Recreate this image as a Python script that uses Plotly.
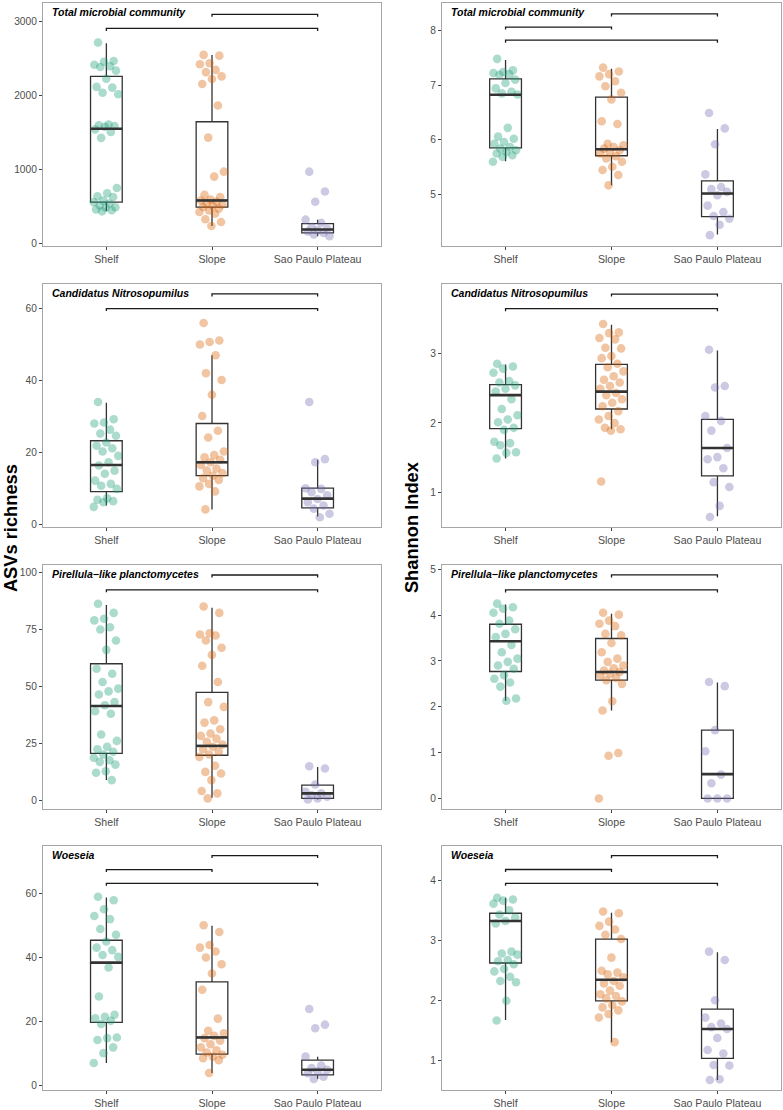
import plotly.graph_objects as go

groups = ["Shelf", "Slope", "Sao Paulo Plateau"]
colors = ["#1B9E77", "#D95F02", "#7570B3"]
titles = ["Total microbial community", "Candidatus Nitrosopumilus",
          "Pirellula\u2212like planctomycetes", "Woeseia"]
ytitle_left = "ASVs richness"
ytitle_right = "Shannon Index"

# ---------------- Total microbial community ----------------
asv_total_shelf = [2720, 2470, 2460, 2420, 2400, 2390, 2340, 2230, 2120, 2110, 2040, 2020,
                   1610, 1600, 1590, 1580, 1545, 1510, 1430, 750, 680, 640, 630, 580, 560,
                   540, 515, 490, 485, 460, 450, 435]
asv_total_slope = [2553, 2543, 2440, 2427, 2350, 2320, 2262, 2226, 2160, 1867, 1433, 972, 905,
                   658, 627, 596, 582, 564, 546, 528, 510, 493, 470, 448, 425, 403, 327, 291, 237]
asv_total_plateau = [972, 703, 564, 322, 278, 224, 197, 179, 161, 143, 121, 99]
asv_total_stats = [[440, 560, 1554, 2262, 2710], [237, 493, 582, 1648, 2553], [99, 143, 188, 269, 322]]

sh_total_shelf = [7.48, 7.27, 7.24, 7.22, 7.20, 7.19, 7.10, 7.04, 6.94, 6.88, 6.85, 6.83, 6.22,
                  6.06, 6.02, 5.96, 5.93, 5.87, 5.84, 5.81, 5.78, 5.75, 5.72, 5.69, 5.60]
sh_total_slope = [7.32, 7.25, 7.20, 7.16, 7.07, 6.98, 6.86, 6.74, 6.34, 6.29, 5.93, 5.90, 5.87,
                  5.84, 5.81, 5.78, 5.75, 5.70, 5.66, 5.60, 5.51, 5.45, 5.36, 5.17]
sh_total_plateau = [6.49, 6.21, 5.92, 5.37, 5.14, 5.10, 5.05, 4.99, 4.80, 4.68, 4.61, 4.56, 4.45, 4.26]
sh_total_stats = [[5.61, 5.855, 6.825, 7.115, 7.46], [5.17, 5.71, 5.83, 6.78, 7.30], [4.27, 4.60, 5.02, 5.25, 6.20]]

# ---------------- Candidatus Nitrosopumilus ----------------
asv_nitro_shelf = [34.0, 29.2, 28.3, 28.0, 26.3, 25.2, 24.6, 22.7, 21.8, 21.1, 20.2, 19.0, 17.2,
                   16.3, 14.9, 14.0, 12.1, 11.2, 10.7, 9.8, 7.2, 6.8, 6.4, 6.1, 4.8]
asv_nitro_slope = [56.0, 51.1, 50.7, 50.0, 47.0, 42.0, 40.1, 36.0, 30.1, 26.0, 24.1, 20.2, 19.2,
                   18.6, 17.9, 17.2, 16.5, 15.5, 14.9, 14.2, 13.5, 12.8, 12.3, 11.2, 10.5, 9.1, 4.1]
asv_nitro_plateau = [34.0, 18.1, 17.2, 10.0, 9.8, 8.9, 8.0, 7.0, 6.1, 5.2, 4.3, 2.9, 1.9]
asv_nitro_stats = [[5.2, 9.06, 16.46, 23.2, 33.8], [4.1, 13.5, 17.2, 28.0, 47.0], [2.1, 4.5, 7.1, 10.0, 17.9]]

sh_nitro_shelf = [2.85, 2.81, 2.78, 2.72, 2.60, 2.58, 2.54, 2.49, 2.45, 2.34, 2.20, 2.11, 2.05,
                  2.01, 1.93, 1.90, 1.73, 1.71, 1.68, 1.58, 1.57, 1.49]
sh_nitro_slope = [3.42, 3.30, 3.29, 3.22, 3.20, 3.08, 3.07, 2.96, 2.93, 2.85, 2.80, 2.74, 2.67,
                  2.62, 2.58, 2.53, 2.49, 2.43, 2.40, 2.34, 2.29, 2.24, 2.17, 2.10, 2.05, 2.00,
                  1.93, 1.91, 1.89, 1.16]
sh_nitro_plateau = [3.05, 2.53, 2.51, 2.10, 2.03, 1.89, 1.64, 1.51, 1.48, 1.35, 1.15, 1.08, 0.81, 0.65]
sh_nitro_stats = [[1.49, 1.92, 2.40, 2.55, 2.84], [1.91, 2.20, 2.45, 2.84, 3.41], [0.66, 1.24, 1.64, 2.05, 3.04]]

# ---------------- Pirellula-like planctomycetes ----------------
asv_pir_shelf = [86.2, 82.2, 79.6, 78.9, 75.9, 74.9, 70.1, 66.0, 57.7, 55.5, 51.9, 49.0, 47.8,
                 46.4, 43.1, 41.7, 39.1, 38.0, 28.9, 26.1, 23.5, 22.4, 21.3, 20.1, 18.7, 17.6,
                 16.9, 15.7, 12.8, 12.1, 8.9]
asv_pir_slope = [85.0, 82.2, 73.3, 72.7, 72.3, 70.1, 66.9, 63.8, 59.0, 51.9, 43.1, 41.0, 35.1,
                 34.1, 31.2, 29.3, 28.3, 27.1, 25.7, 24.5, 23.5, 22.4, 21.3, 20.1, 19.1, 15.2,
                 12.5, 11.8, 8.9, 4.1, 3.1, 0.9]
asv_pir_plateau = [15.0, 14.0, 7.0, 3.8, 3.1, 2.3, 1.6, 0.9, 0.4]
asv_pir_stats = [[8.9, 20.6, 41.4, 59.9, 85.7], [1.2, 19.8, 23.9, 47.4, 84.4], [0.4, 0.9, 3.1, 6.7, 14.7]]

sh_pir_shelf = [4.25, 4.17, 4.14, 4.05, 3.88, 3.81, 3.69, 3.59, 3.52, 3.35, 3.19, 3.05, 2.98,
                2.90, 2.83, 2.69, 2.61, 2.53, 2.44, 2.18, 2.13]
sh_pir_slope = [4.05, 4.01, 3.88, 3.81, 3.76, 3.59, 3.56, 3.39, 3.19, 3.05, 2.98, 2.90, 2.84,
                2.79, 2.76, 2.72, 2.69, 2.63, 2.58, 2.50, 2.12, 1.92, 0.99, 0.93, 0.0]
sh_pir_plateau = [2.54, 2.45, 1.49, 1.03, 0.52, 0.33, 0.0, 0.0, 0.0]
sh_pir_stats = [[2.13, 2.77, 3.43, 3.80, 4.23], [1.92, 2.58, 2.76, 3.49, 4.03], [0.0, 0.0, 0.53, 1.49, 2.53]]

# ---------------- Woeseia ----------------
asv_woe_shelf = [59.1, 58.0, 55.2, 53.1, 52.1, 49.0, 47.2, 45.1, 43.2, 42.4, 40.9, 40.3, 37.0,
                 27.9, 22.2, 21.6, 21.1, 20.3, 19.3, 15.1, 14.9, 14.3, 12.0, 10.2, 7.1]
asv_woe_slope = [50.2, 48.1, 44.0, 43.2, 42.0, 40.1, 38.0, 35.1, 30.0, 21.0, 17.2, 16.4, 15.6,
                 14.9, 14.1, 13.0, 12.0, 11.1, 10.4, 9.7, 9.1, 8.6, 8.0, 4.0]
asv_woe_plateau = [24.0, 19.1, 18.0, 9.1, 6.3, 5.5, 5.0, 4.5, 3.9, 2.8, 2.1]
asv_woe_stats = [[7.1, 19.8, 38.5, 45.5, 58.9], [4.0, 9.9, 15.1, 32.5, 50.0], [2.1, 3.4, 5.0, 8.0, 9.1]]

sh_woe_shelf = [3.72, 3.69, 3.67, 3.62, 3.51, 3.44, 3.39, 3.33, 3.29, 2.82, 2.79, 2.77, 2.68,
                2.66, 2.61, 2.53, 2.49, 2.40, 2.33, 2.31, 2.00, 1.67]
sh_woe_slope = [3.49, 3.46, 3.32, 3.25, 3.19, 3.10, 3.03, 2.72, 2.50, 2.47, 2.44, 2.39, 2.33,
                2.29, 2.25, 2.17, 2.11, 2.08, 2.04, 1.99, 1.93, 1.89, 1.84, 1.78, 1.72, 1.31]
sh_woe_plateau = [2.82, 2.68, 2.01, 1.72, 1.62, 1.56, 1.53, 1.38, 1.18, 1.12, 0.93, 0.92, 0.69, 0.68]
sh_woe_stats = [[1.68, 2.63, 3.33, 3.46, 3.72], [1.31, 2.00, 2.35, 3.03, 3.47], [0.68, 1.04, 1.53, 1.86, 2.81]]

# significance brackets: (from group, to group, level)
br_asv_total = [(1, 2, 3103), (0, 2, 2911)]
br_sh_total = [(1, 2, 8.30), (0, 1, 8.06), (0, 2, 7.82)]
br_asv_nitro = [(1, 2, 64.07), (0, 2, 60.0)]
br_sh_nitro = [(1, 2, 3.85), (0, 2, 3.64)]
br_asv_pir = [(1, 2, 98.8), (0, 2, 92.3)]
br_sh_pir = [(1, 2, 4.877), (0, 2, 4.55)]
br_asv_woe = [(1, 2, 71.98), (0, 1, 67.6), (0, 2, 63.3)]
br_sh_woe = [(1, 2, 4.42), (0, 1, 4.19), (0, 2, 3.96)]

ticks_asv_total = [0, 1000, 2000, 3000]
ticks_sh_total = [5, 6, 7, 8]
ticks_asv_nitro = [0, 20, 40, 60]
ticks_sh_nitro = [1, 2, 3, 4]
ticks_asv_pir = [0, 25, 50, 75, 100]
ticks_sh_pir = [0, 1, 2, 3, 4, 5]
ticks_asv_woe = [0, 20, 40, 60]
ticks_sh_woe = [1, 2, 3, 4]

# ---------------- layout geometry ----------------
W, H = 783, 1110
col_px = [(43, 381), (442, 781)]
row_px = [(2, 246), (284, 528), (566, 811), (848, 1093)]
yranges = [[-36, 3256], [4.06, 8.5], [-0.83, 66.84], [0.505, 3.995],
           [-3.79, 103.2], [-0.232, 5.094], [-1.35, 75.0], [0.511, 4.583]]

panels = [
    (titles[0], [asv_total_shelf, asv_total_slope, asv_total_plateau], asv_total_stats, br_asv_total, ticks_asv_total),
    (titles[0], [sh_total_shelf, sh_total_slope, sh_total_plateau], sh_total_stats, br_sh_total, ticks_sh_total),
    (titles[1], [asv_nitro_shelf, asv_nitro_slope, asv_nitro_plateau], asv_nitro_stats, br_asv_nitro, ticks_asv_nitro),
    (titles[1], [sh_nitro_shelf, sh_nitro_slope, sh_nitro_plateau], sh_nitro_stats, br_sh_nitro, ticks_sh_nitro),
    (titles[2], [asv_pir_shelf, asv_pir_slope, asv_pir_plateau], asv_pir_stats, br_asv_pir, ticks_asv_pir),
    (titles[2], [sh_pir_shelf, sh_pir_slope, sh_pir_plateau], sh_pir_stats, br_sh_pir, ticks_sh_pir),
    (titles[3], [asv_woe_shelf, asv_woe_slope, asv_woe_plateau], asv_woe_stats, br_asv_woe, ticks_asv_woe),
    (titles[3], [sh_woe_shelf, sh_woe_slope, sh_woe_plateau], sh_woe_stats, br_sh_woe, ticks_sh_woe),
]

FONT = "Liberation Sans, Arial, sans-serif"
fig = go.Figure()
layout = dict(width=W, height=H, margin=dict(l=0, r=0, t=0, b=0),
              paper_bgcolor="white", plot_bgcolor="white", showlegend=False,
              font=dict(family=FONT))
annotations = []
BOXW = 0.3


def jitter(n):
    return [0.24 * (((i * 0.6180339887 + 0.17) % 1.0) - 0.5) for i in range(n)]


for k, (title, vals, stats, brackets, ticks) in enumerate(panels):
    r, c = k // 2, k % 2
    xa = "x" if k == 0 else f"x{k + 1}"
    ya = "y" if k == 0 else f"y{k + 1}"
    xkey = "xaxis" if k == 0 else f"xaxis{k + 1}"
    ykey = "yaxis" if k == 0 else f"yaxis{k + 1}"
    x0, x1 = col_px[c]
    y0, y1 = row_px[r]
    yr = yranges[k]

    # boxes
    for g in range(3):
        lo, q1, med, q3, hi = stats[g]
        fig.add_trace(go.Box(
            x=[g], q1=[q1], median=[med], q3=[q3], lowerfence=[lo], upperfence=[hi],
            width=BOXW, whiskerwidth=0, boxpoints=False,
            line=dict(color="#333333", width=1.3), fillcolor="rgba(0,0,0,0)",
            xaxis=xa, yaxis=ya, hoverinfo="skip"))
    # jittered points
    for g in range(3):
        v = vals[g]
        off = jitter(len(v))
        fig.add_trace(go.Scatter(
            x=[g + o for o in off], y=v, mode="markers",
            marker=dict(color=colors[g], opacity=0.37, size=8.6, line=dict(width=0)),
            xaxis=xa, yaxis=ya, hoverinfo="skip"))
    # thick medians on top
    mx, my = [], []
    for g in range(3):
        med = stats[g][2]
        mx += [g - BOXW / 2, g + BOXW / 2, None]
        my += [med, med, None]
    fig.add_trace(go.Scatter(x=mx, y=my, mode="lines",
                             line=dict(color="#333333", width=2.6),
                             xaxis=xa, yaxis=ya, hoverinfo="skip"))
    # brackets
    tip = (yr[1] - yr[0]) * 2.5 / (y1 - y0)
    bx, by = [], []
    for a, b, lev in brackets:
        bx += [a, a, b, b, None]
        by += [lev - tip, lev, lev, lev - tip, None]
    fig.add_trace(go.Scatter(x=bx, y=by, mode="lines",
                             line=dict(color="#1a1a1a", width=1.3),
                             xaxis=xa, yaxis=ya, hoverinfo="skip"))

    layout[xkey] = dict(domain=[x0 / W, x1 / W], anchor=ya, range=[-0.6, 2.6],
                        tickvals=[0, 1, 2], ticktext=groups, showgrid=False, zeroline=False,
                        showline=True, mirror=True, linecolor="#a6a6a6", linewidth=1.2,
                        ticks="outside", ticklen=3, tickcolor="#444444", tickwidth=1,
                        tickfont=dict(size=10.6, color="#4d4d4d", family=FONT))
    layout[ykey] = dict(domain=[1 - y1 / H, 1 - y0 / H], anchor=xa, range=yr,
                        tickvals=ticks, showgrid=False, zeroline=False,
                        showline=True, mirror=True, linecolor="#a6a6a6", linewidth=1.2,
                        ticks="outside", ticklen=3, tickcolor="#444444", tickwidth=1,
                        tickfont=dict(size=10.2, color="#4d4d4d", family=FONT))
    annotations.append(dict(
        text=f"<b><i>{title}</i></b>", xref=f"{xa} domain", yref=f"{ya} domain",
        x=0.02, y=0.995, xanchor="left", yanchor="top", showarrow=False,
        font=dict(size=10.5, color="black", family=FONT)))

annotations.append(dict(text=f"<b>{ytitle_left}</b>", xref="paper", yref="paper",
                        x=10 / W, y=1 - 529 / H, textangle=-90, showarrow=False,
                        xanchor="center", yanchor="middle",
                        font=dict(size=18.3, color="black", family=FONT)))
annotations.append(dict(text=f"<b>{ytitle_right}</b>", xref="paper", yref="paper",
                        x=411 / W, y=1 - 528 / H, textangle=-90, showarrow=False,
                        xanchor="center", yanchor="middle",
                        font=dict(size=18.3, color="black", family=FONT)))
layout["annotations"] = annotations
fig.update_layout(**layout)
fig.write_html("out.html")
